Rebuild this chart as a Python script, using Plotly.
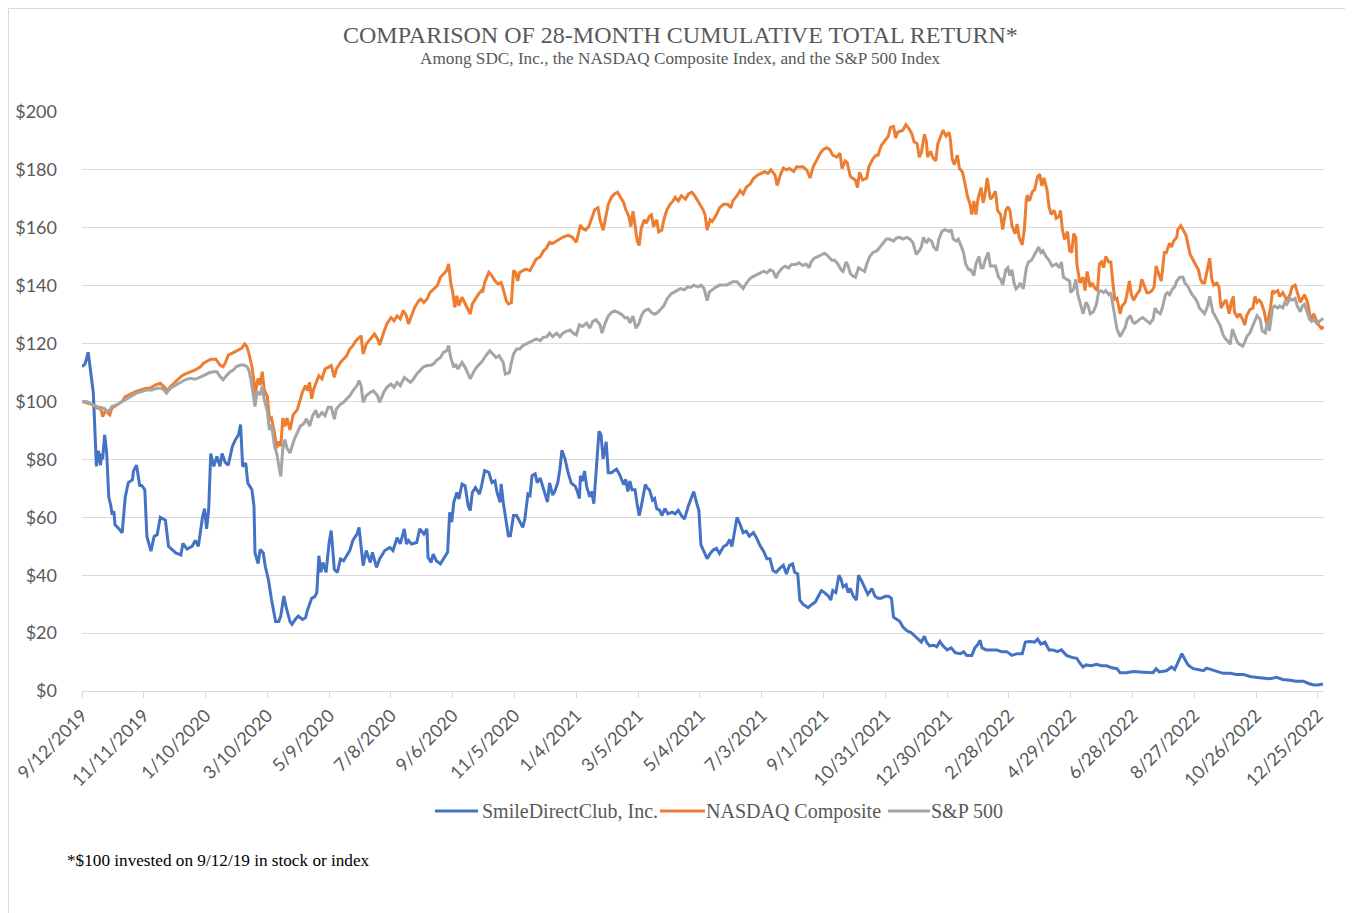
import plotly.graph_objects as go

# ---------------- data ----------------
title_text = "COMPARISON OF 28-MONTH CUMULATIVE TOTAL RETURN*"
subtitle_text = "Among SDC, Inc., the NASDAQ Composite Index, and the S&P 500 Index"
footnote_text = "*$100 invested on 9/12/19 in stock or index"

series_names = ["SmileDirectClub, Inc.", "NASDAQ Composite", "S&P 500"]
series_colors = ["#4472C4", "#ED7D31", "#A5A5A5"]

tick_dates = ["2019-09-12", "2019-11-11", "2020-01-10", "2020-03-10", "2020-05-09", "2020-07-08",
              "2020-09-06", "2020-11-05", "2021-01-04", "2021-03-05", "2021-05-04", "2021-07-03",
              "2021-09-01", "2021-10-31", "2021-12-30", "2022-02-28", "2022-04-29", "2022-06-28",
              "2022-08-27", "2022-10-26", "2022-12-25"]
tick_labels = ["9/12/2019", "11/11/2019", "1/10/2020", "3/10/2020", "5/9/2020", "7/8/2020",
               "9/6/2020", "11/5/2020", "1/4/2021", "3/5/2021", "5/4/2021", "7/3/2021",
               "9/1/2021", "10/31/2021", "12/30/2021", "2/28/2022", "4/29/2022", "6/28/2022",
               "8/27/2022", "10/26/2022", "12/25/2022"]

sdc_points = [
    ("2019-09-12", 112), ("2019-09-15", 113), ("2019-09-18", 117), ("2019-09-23", 103), ("2019-09-26", 77.6),
    ("2019-09-28", 83), ("2019-09-30", 78), ("2019-10-01", 82), ("2019-10-02", 80), ("2019-10-04", 88.5),
    ("2019-10-06", 82), ("2019-10-08", 67), ("2019-10-10", 64), ("2019-10-11", 61.5), ("2019-10-13", 62),
    ("2019-10-14", 57.5), ("2019-10-18", 56), ("2019-10-21", 54.6), ("2019-10-24", 67), ("2019-10-27", 72),
    ("2019-10-31", 73), ("2019-11-01", 76), ("2019-11-04", 78), ("2019-11-07", 71), ("2019-11-09", 71),
    ("2019-11-12", 69.5), ("2019-11-14", 53.4), ("2019-11-16", 51), ("2019-11-18", 48.3), ("2019-11-21", 53.4),
    ("2019-11-24", 54), ("2019-11-27", 60), ("2019-12-02", 59), ("2019-12-05", 50), ("2019-12-08", 48.9),
    ("2019-12-12", 47.7), ("2019-12-17", 47), ("2019-12-19", 51), ("2019-12-23", 49), ("2019-12-28", 50),
    ("2019-12-31", 52), ("2020-01-03", 50), ("2020-01-07", 60), ("2020-01-09", 63), ("2020-01-11", 56),
    ("2020-01-13", 62.6), ("2020-01-15", 82), ("2020-01-18", 77.6), ("2020-01-21", 81), ("2020-01-24", 77.6),
    ("2020-01-26", 82), ("2020-01-29", 79), ("2020-02-01", 78), ("2020-02-05", 84.5), ("2020-02-08", 86.8),
    ("2020-02-11", 88.5), ("2020-02-13", 92), ("2020-02-15", 77.6), ("2020-02-18", 78.7), ("2020-02-20", 71.8),
    ("2020-02-24", 69.5), ("2020-02-26", 63.8), ("2020-02-27", 47.7), ("2020-03-01", 44), ("2020-03-03", 48.9),
    ("2020-03-06", 47.7), ("2020-03-08", 43), ("2020-03-11", 38.5), ("2020-03-14", 31.6), ("2020-03-15", 29.3),
    ("2020-03-18", 24), ("2020-03-21", 24), ("2020-03-23", 25.9), ("2020-03-26", 32.8), ("2020-03-28", 29.3),
    ("2020-04-01", 24), ("2020-04-03", 23), ("2020-04-06", 24.7), ("2020-04-09", 25.9), ("2020-04-13", 24.7),
    ("2020-04-16", 25.3), ("2020-04-18", 28), ("2020-04-22", 32), ("2020-04-25", 32.6), ("2020-04-27", 34),
    ("2020-04-29", 46.7), ("2020-05-01", 41), ("2020-05-03", 44.4), ("2020-05-06", 41), ("2020-05-09", 51.3),
    ("2020-05-11", 55.4), ("2020-05-14", 42), ("2020-05-17", 41), ("2020-05-20", 45.6), ("2020-05-23", 45),
    ("2020-05-26", 46.7), ("2020-05-29", 48.5), ("2020-06-01", 52), ("2020-06-05", 54.2), ("2020-06-07", 56.5),
    ("2020-06-11", 43.3), ("2020-06-14", 48.5), ("2020-06-18", 44.4), ("2020-06-20", 47.9), ("2020-06-24", 42.7),
    ("2020-06-27", 45.6), ("2020-07-02", 48.5), ("2020-07-07", 49.6), ("2020-07-10", 48.5), ("2020-07-14", 53),
    ("2020-07-17", 50.8), ("2020-07-21", 56), ("2020-07-23", 50.8), ("2020-07-25", 52), ("2020-07-28", 50.8),
    ("2020-08-02", 51.3), ("2020-08-05", 56), ("2020-08-09", 54.2), ("2020-08-12", 56), ("2020-08-13", 46.2),
    ("2020-08-16", 44.4), ("2020-08-18", 47.3), ("2020-08-21", 45), ("2020-08-25", 43.9), ("2020-08-29", 46.2),
    ("2020-09-01", 47.9), ("2020-09-03", 61.7), ("2020-09-05", 58.3), ("2020-09-07", 65.2), ("2020-09-10", 68.6),
    ("2020-09-12", 66.3), ("2020-09-15", 71.5), ("2020-09-18", 70.9), ("2020-09-21", 64), ("2020-09-23", 62.3),
    ("2020-09-25", 68.6), ("2020-09-28", 70.3), ("2020-10-02", 68), ("2020-10-04", 70.9), ("2020-10-07", 76.1),
    ("2020-10-11", 75.5), ("2020-10-14", 72), ("2020-10-17", 72.6), ("2020-10-19", 68.6), ("2020-10-22", 65.2),
    ("2020-10-23", 71.5), ("2020-10-25", 65.2), ("2020-10-28", 57.7), ("2020-10-30", 53.6), ("2020-11-01", 53.6),
    ("2020-11-04", 60.6), ("2020-11-07", 60.6), ("2020-11-10", 58.8), ("2020-11-13", 56.5), ("2020-11-15", 59.4),
    ("2020-11-18", 68), ("2020-11-20", 67.5), ("2020-11-22", 74.4), ("2020-11-25", 75), ("2020-11-27", 72),
    ("2020-11-30", 73.5), ("2020-12-03", 70), ("2020-12-05", 67), ("2020-12-07", 65.3), ("2020-12-09", 71.9),
    ("2020-12-12", 67.7), ("2020-12-14", 68.9), ("2020-12-17", 72), ("2020-12-19", 76.6), ("2020-12-21", 83.2),
    ("2020-12-24", 80.2), ("2020-12-27", 75.4), ("2020-12-30", 71.9), ("2021-01-03", 70.7), ("2021-01-05", 68.9),
    ("2021-01-07", 66.5), ("2021-01-08", 74.3), ("2021-01-10", 72.5), ("2021-01-12", 76), ("2021-01-14", 70.7),
    ("2021-01-17", 67.1), ("2021-01-19", 68.9), ("2021-01-21", 64.7), ("2021-01-24", 79), ("2021-01-26", 89.7),
    ("2021-01-28", 88.5), ("2021-01-30", 80.2), ("2021-02-01", 83.8), ("2021-02-02", 86.1), ("2021-02-04", 75.4),
    ("2021-02-07", 75.4), ("2021-02-12", 76.6), ("2021-02-15", 74.8), ("2021-02-19", 71.3), ("2021-02-21", 73.1),
    ("2021-02-23", 68.9), ("2021-02-25", 72.5), ("2021-02-27", 69.5), ("2021-03-02", 69.5), ("2021-03-04", 64.7),
    ("2021-03-06", 60.6), ("2021-03-08", 63.6), ("2021-03-12", 71.3), ("2021-03-14", 70.1), ("2021-03-16", 69.5),
    ("2021-03-19", 65.9), ("2021-03-21", 66.5), ("2021-03-23", 63), ("2021-03-26", 62.4), ("2021-03-28", 60.6),
    ("2021-03-31", 63), ("2021-04-03", 61.2), ("2021-04-07", 61.8), ("2021-04-10", 61.2), ("2021-04-13", 62.4),
    ("2021-04-16", 60.6), ("2021-04-19", 59.4), ("2021-04-23", 64.2), ("2021-04-26", 67.1), ("2021-04-28", 68.9),
    ("2021-05-01", 64.7), ("2021-05-03", 62.4), ("2021-05-05", 50.5), ("2021-05-07", 48.7), ("2021-05-11", 45.7),
    ("2021-05-14", 47.5), ("2021-05-17", 48.7), ("2021-05-20", 49.3), ("2021-05-23", 47.5), ("2021-05-27", 49.9),
    ("2021-05-30", 50.5), ("2021-06-02", 52.3), ("2021-06-04", 49.9), ("2021-06-05", 51.7), ("2021-06-09", 60),
    ("2021-06-12", 57.6), ("2021-06-15", 54.7), ("2021-06-18", 55.2), ("2021-06-21", 53.5), ("2021-06-25", 54.7),
    ("2021-06-28", 52.9), ("2021-07-01", 50.5), ("2021-07-05", 48.1), ("2021-07-08", 45.7), ("2021-07-11", 45.7),
    ("2021-07-14", 41.6), ("2021-07-17", 41), ("2021-07-21", 42.5), ("2021-07-24", 43.4), ("2021-07-27", 40.4),
    ("2021-07-30", 43.4), ("2021-08-02", 43.9), ("2021-08-04", 41), ("2021-08-07", 40.4), ("2021-08-09", 31.4),
    ("2021-08-12", 30), ("2021-08-17", 28.8), ("2021-08-21", 30), ("2021-08-24", 30.7), ("2021-08-27", 32.7),
    ("2021-08-30", 34.7), ("2021-09-02", 34), ("2021-09-06", 32.7), ("2021-09-08", 31.4), ("2021-09-10", 34.7),
    ("2021-09-13", 34), ("2021-09-16", 40), ("2021-09-18", 38.7), ("2021-09-20", 36), ("2021-09-23", 36.7),
    ("2021-09-25", 34), ("2021-09-27", 35.4), ("2021-09-30", 32.7), ("2021-10-03", 31.4), ("2021-10-05", 40),
    ("2021-10-08", 38), ("2021-10-11", 35.4), ("2021-10-14", 33.4), ("2021-10-18", 35.4), ("2021-10-21", 32.7),
    ("2021-10-24", 32), ("2021-10-27", 32), ("2021-10-31", 32.7), ("2021-11-03", 32.7), ("2021-11-06", 32),
    ("2021-11-08", 25.5), ("2021-11-11", 24.8), ("2021-11-14", 24.1), ("2021-11-17", 22.2), ("2021-11-21", 20.8),
    ("2021-11-25", 20.2), ("2021-11-29", 18.9), ("2021-12-02", 18.2), ("2021-12-05", 16.9), ("2021-12-08", 18.9),
    ("2021-12-10", 16.9), ("2021-12-13", 15.6), ("2021-12-17", 15.8), ("2021-12-20", 15.3), ("2021-12-23", 17.1),
    ("2021-12-26", 15.6), ("2021-12-30", 14.2), ("2022-01-03", 14.9), ("2022-01-07", 13.2), ("2022-01-12", 12.9),
    ("2022-01-15", 13.6), ("2022-01-18", 12.3), ("2022-01-23", 12.3), ("2022-01-26", 14.9), ("2022-01-29", 16.2),
    ("2022-01-31", 17.5), ("2022-02-02", 14.9), ("2022-02-06", 14.2), ("2022-02-11", 14.2), ("2022-02-16", 14.2),
    ("2022-02-21", 13.6), ("2022-02-26", 13.6), ("2022-03-03", 12.3), ("2022-03-08", 12.9), ("2022-03-13", 12.9),
    ("2022-03-16", 16.9), ("2022-03-20", 17.1), ("2022-03-25", 16.9), ("2022-03-28", 17.9), ("2022-03-31", 16.2),
    ("2022-04-04", 16.9), ("2022-04-08", 14.2), ("2022-04-12", 14.2), ("2022-04-16", 13.6), ("2022-04-20", 14.2),
    ("2022-04-25", 12.3), ("2022-04-30", 11.6), ("2022-05-05", 11.3), ("2022-05-08", 9.6), ("2022-05-11", 8.3),
    ("2022-05-14", 9), ("2022-05-19", 8.7), ("2022-05-24", 9.2), ("2022-05-29", 8.7), ("2022-06-03", 8.7),
    ("2022-06-08", 8), ("2022-06-13", 7.7), ("2022-06-16", 6.3), ("2022-06-22", 6.3), ("2022-06-29", 6.7),
    ("2022-07-05", 6.6), ("2022-07-12", 6.3), ("2022-07-18", 6.3), ("2022-07-21", 7.7), ("2022-07-24", 6.6),
    ("2022-07-31", 7), ("2022-08-05", 8.3), ("2022-08-08", 7.4), ("2022-08-12", 10.3), ("2022-08-15", 12.9),
    ("2022-08-18", 10.9), ("2022-08-21", 9), ("2022-08-26", 7.7), ("2022-08-31", 7.4), ("2022-09-05", 7),
    ("2022-09-08", 7.9), ("2022-09-13", 7.4), ("2022-09-18", 6.7), ("2022-09-24", 6.1), ("2022-10-01", 6.1),
    ("2022-10-07", 5.7), ("2022-10-14", 5.7), ("2022-10-20", 5), ("2022-10-27", 4.7), ("2022-11-02", 4.4),
    ("2022-11-08", 4.2), ("2022-11-15", 4.7), ("2022-11-21", 4), ("2022-11-28", 3.7), ("2022-12-04", 3.4),
    ("2022-12-11", 3.4), ("2022-12-16", 2.6), ("2022-12-21", 2.1), ("2022-12-25", 2.1), ("2022-12-30", 2.4),
]

nasdaq_points = [
    ("2019-09-12", 100), ("2019-09-17", 99.4), ("2019-09-22", 98.9), ("2019-09-27", 97.7), ("2019-09-30", 98),
    ("2019-10-02", 94.8), ("2019-10-05", 97), ("2019-10-07", 96), ("2019-10-09", 95.4), ("2019-10-11", 97.7),
    ("2019-10-16", 98.9), ("2019-10-21", 100), ("2019-10-24", 101.7), ("2019-10-29", 102.6), ("2019-11-03", 103.4),
    ("2019-11-08", 104), ("2019-11-13", 104.6), ("2019-11-17", 104.6), ("2019-11-22", 105.7), ("2019-11-27", 106.3),
    ("2019-12-02", 104.6), ("2019-12-03", 103.4), ("2019-12-07", 105.2), ("2019-12-12", 106.9), ("2019-12-17", 108.6),
    ("2019-12-21", 109.5), ("2019-12-26", 110.3), ("2019-12-31", 110.9), ("2020-01-05", 112), ("2020-01-08", 113.2),
    ("2020-01-11", 113.8), ("2020-01-15", 114.6), ("2020-01-18", 114.6), ("2020-01-20", 114.6), ("2020-01-24", 112.6),
    ("2020-01-27", 112), ("2020-01-29", 113.2), ("2020-02-01", 116), ("2020-02-05", 116.7), ("2020-02-08", 117.2),
    ("2020-02-11", 117.8), ("2020-02-14", 118.4), ("2020-02-17", 119.9), ("2020-02-19", 119), ("2020-02-21", 116.7),
    ("2020-02-24", 112), ("2020-02-26", 106.9), ("2020-02-27", 102.3), ("2020-03-01", 108), ("2020-03-03", 105.7),
    ("2020-03-05", 110.3), ("2020-03-07", 104), ("2020-03-10", 101.7), ("2020-03-12", 93.7), ("2020-03-14", 94.3),
    ("2020-03-17", 89), ("2020-03-19", 83.9), ("2020-03-21", 86.2), ("2020-03-23", 84.5), ("2020-03-25", 94.3),
    ("2020-03-27", 91.4), ("2020-03-29", 94.3), ("2020-04-01", 90.2), ("2020-04-04", 95.4), ("2020-04-08", 97.1),
    ("2020-04-11", 100.6), ("2020-04-13", 103.2), ("2020-04-16", 105.5), ("2020-04-18", 103.7), ("2020-04-20", 106.6),
    ("2020-04-22", 100.9), ("2020-04-24", 104.3), ("2020-04-29", 108.9), ("2020-05-02", 107.8), ("2020-05-05", 111.2),
    ("2020-05-08", 111.8), ("2020-05-11", 112.4), ("2020-05-14", 108.3), ("2020-05-16", 111.2), ("2020-05-20", 113.5),
    ("2020-05-23", 114.7), ("2020-05-26", 115.8), ("2020-05-29", 118.1), ("2020-06-01", 119.3), ("2020-06-04", 121),
    ("2020-06-07", 122.2), ("2020-06-09", 122.7), ("2020-06-11", 116.4), ("2020-06-14", 119.8), ("2020-06-18", 121.6),
    ("2020-06-22", 123.3), ("2020-06-25", 121.6), ("2020-06-27", 119.5), ("2020-07-01", 123.9), ("2020-07-04", 126.8),
    ("2020-07-08", 129), ("2020-07-11", 127.9), ("2020-07-14", 129.6), ("2020-07-17", 128.5), ("2020-07-20", 131.4),
    ("2020-07-23", 129.6), ("2020-07-25", 126.8), ("2020-07-28", 129.6), ("2020-07-31", 132.5), ("2020-08-04", 134.8),
    ("2020-08-06", 135.4), ("2020-08-09", 134.2), ("2020-08-12", 135.4), ("2020-08-15", 137.7), ("2020-08-18", 138.8),
    ("2020-08-22", 140), ("2020-08-25", 142.9), ("2020-08-28", 144), ("2020-08-31", 145.2), ("2020-09-02", 147.5),
    ("2020-09-04", 141.1), ("2020-09-06", 137.7), ("2020-09-08", 132.5), ("2020-09-10", 136.5), ("2020-09-12", 133.1),
    ("2020-09-15", 136), ("2020-09-18", 133.7), ("2020-09-20", 131.9), ("2020-09-23", 130.2), ("2020-09-25", 133.7),
    ("2020-09-28", 135.4), ("2020-10-01", 137.1), ("2020-10-04", 138.3), ("2020-10-05", 137.7), ("2020-10-07", 141.1),
    ("2020-10-11", 144.6), ("2020-10-14", 143.4), ("2020-10-17", 141.7), ("2020-10-20", 140.6), ("2020-10-23", 141.1),
    ("2020-10-25", 138.8), ("2020-10-28", 134.8), ("2020-10-30", 133.7), ("2020-11-02", 134.2), ("2020-11-04", 145.2),
    ("2020-11-06", 144.6), ("2020-11-08", 141.7), ("2020-11-10", 144.6), ("2020-11-13", 145.2), ("2020-11-16", 145.7),
    ("2020-11-20", 145.2), ("2020-11-23", 147.5), ("2020-11-26", 149.2), ("2020-11-30", 150), ("2020-12-03", 152),
    ("2020-12-06", 153), ("2020-12-09", 155), ("2020-12-12", 154.6), ("2020-12-16", 155.6), ("2020-12-19", 156.2),
    ("2020-12-22", 156.8), ("2020-12-27", 157.4), ("2020-12-31", 156.8), ("2021-01-04", 155), ("2021-01-06", 158),
    ("2021-01-08", 161), ("2021-01-10", 159.8), ("2021-01-13", 159.2), ("2021-01-16", 160.4), ("2021-01-20", 164.5),
    ("2021-01-22", 166.3), ("2021-01-25", 166.9), ("2021-01-27", 162.8), ("2021-01-30", 159.2), ("2021-02-01", 162.8),
    ("2021-02-04", 168.1), ("2021-02-07", 170.5), ("2021-02-10", 171.7), ("2021-02-13", 172.3), ("2021-02-15", 171.1),
    ("2021-02-19", 168.7), ("2021-02-21", 166.3), ("2021-02-24", 164), ("2021-02-26", 160.4), ("2021-02-28", 165.7),
    ("2021-03-02", 161), ("2021-03-04", 155.6), ("2021-03-06", 153.9), ("2021-03-08", 159.8), ("2021-03-11", 162.8),
    ("2021-03-13", 161.6), ("2021-03-16", 164), ("2021-03-18", 164.5), ("2021-03-20", 160.4), ("2021-03-23", 162.8),
    ("2021-03-25", 158.6), ("2021-03-28", 159.2), ("2021-03-30", 162.8), ("2021-04-02", 166.3), ("2021-04-05", 168.1),
    ("2021-04-08", 169.3), ("2021-04-10", 170.5), ("2021-04-13", 169.3), ("2021-04-16", 171.1), ("2021-04-20", 169.9),
    ("2021-04-23", 171.7), ("2021-04-26", 172.3), ("2021-04-29", 171.1), ("2021-05-02", 169.3), ("2021-05-05", 167.5),
    ("2021-05-07", 166.3), ("2021-05-09", 164.5), ("2021-05-11", 159.2), ("2021-05-14", 162.8), ("2021-05-16", 162.2),
    ("2021-05-20", 164.5), ("2021-05-23", 166.9), ("2021-05-27", 168.1), ("2021-05-31", 168.1), ("2021-06-03", 166.9),
    ("2021-06-05", 169.3), ("2021-06-09", 171.1), ("2021-06-12", 172.9), ("2021-06-15", 171.7), ("2021-06-18", 174),
    ("2021-06-22", 175.2), ("2021-06-25", 177), ("2021-06-29", 178.2), ("2021-07-03", 178.8), ("2021-07-06", 179.4),
    ("2021-07-09", 178.8), ("2021-07-12", 180), ("2021-07-16", 178.2), ("2021-07-18", 174.6), ("2021-07-21", 178.2),
    ("2021-07-24", 180.6), ("2021-07-27", 180), ("2021-07-30", 180.5), ("2021-08-03", 179.5), ("2021-08-06", 181.1),
    ("2021-08-09", 181), ("2021-08-12", 181.1), ("2021-08-16", 179.8), ("2021-08-19", 177.2), ("2021-08-22", 181.1),
    ("2021-08-25", 183.1), ("2021-08-29", 185.8), ("2021-09-01", 187.1), ("2021-09-04", 187.7), ("2021-09-07", 187.1),
    ("2021-09-10", 185.1), ("2021-09-14", 184.4), ("2021-09-17", 185.8), ("2021-09-19", 180.5), ("2021-09-22", 183.1),
    ("2021-09-24", 182.5), ("2021-09-27", 177.8), ("2021-09-29", 177.2), ("2021-10-02", 176.5), ("2021-10-04", 173.9),
    ("2021-10-06", 179.2), ("2021-10-09", 176.5), ("2021-10-13", 177.2), ("2021-10-15", 181.1), ("2021-10-19", 183.8),
    ("2021-10-22", 185.1), ("2021-10-24", 185.1), ("2021-10-27", 188.4), ("2021-10-31", 190.4), ("2021-11-03", 191.7),
    ("2021-11-05", 194.7), ("2021-11-08", 195), ("2021-11-10", 191), ("2021-11-12", 193), ("2021-11-17", 193.7),
    ("2021-11-20", 195.6), ("2021-11-23", 194.3), ("2021-11-26", 192.3), ("2021-11-28", 189.7), ("2021-12-01", 189),
    ("2021-12-03", 184.4), ("2021-12-05", 185.8), ("2021-12-08", 192.3), ("2021-12-10", 189.7), ("2021-12-11", 184.4),
    ("2021-12-14", 186.4), ("2021-12-16", 184.4), ("2021-12-19", 183.1), ("2021-12-21", 189), ("2021-12-24", 192.3),
    ("2021-12-26", 193.7), ("2021-12-29", 191.7), ("2022-01-01", 193), ("2022-01-02", 191), ("2022-01-04", 183.8),
    ("2022-01-06", 181.8), ("2022-01-09", 185.1), ("2022-01-11", 180.5), ("2022-01-14", 179.2), ("2022-01-16", 175.9),
    ("2022-01-19", 170.6), ("2022-01-21", 168.6), ("2022-01-23", 164.6), ("2022-01-25", 169.3), ("2022-01-27", 164.6),
    ("2022-01-29", 169.9), ("2022-02-01", 173.9), ("2022-02-03", 168.6), ("2022-02-05", 171.9), ("2022-02-07", 177.2),
    ("2022-02-10", 169.9), ("2022-02-12", 170.6), ("2022-02-15", 172.6), ("2022-02-17", 166), ("2022-02-20", 164.6),
    ("2022-02-22", 159.4), ("2022-02-25", 166), ("2022-02-27", 167.3), ("2022-03-01", 166), ("2022-03-03", 160.7),
    ("2022-03-06", 158), ("2022-03-08", 161.3), ("2022-03-10", 156.7), ("2022-03-13", 154.1), ("2022-03-15", 159.4),
    ("2022-03-17", 169.9), ("2022-03-18", 171.2), ("2022-03-20", 169.3), ("2022-03-23", 172.6), ("2022-03-25", 173.2),
    ("2022-03-28", 177.8), ("2022-03-30", 178.5), ("2022-04-01", 174.5), ("2022-04-03", 177.2), ("2022-04-06", 173.2),
    ("2022-04-08", 167.3), ("2022-04-10", 164.6), ("2022-04-13", 166), ("2022-04-15", 163.3), ("2022-04-18", 164),
    ("2022-04-19", 166), ("2022-04-21", 159.4), ("2022-04-23", 156), ("2022-04-26", 158.7), ("2022-04-28", 152.1),
    ("2022-04-30", 151.5), ("2022-05-02", 158), ("2022-05-04", 156.7), ("2022-05-05", 147.5), ("2022-05-08", 140.9),
    ("2022-05-11", 142.9), ("2022-05-13", 138.3), ("2022-05-15", 144.9), ("2022-05-18", 139.6), ("2022-05-20", 140.9),
    ("2022-05-23", 138.9), ("2022-05-25", 138.3), ("2022-05-27", 147.5), ("2022-05-29", 148.2), ("2022-05-31", 146.2),
    ("2022-06-02", 150.1), ("2022-06-05", 148.2), ("2022-06-07", 148.2), ("2022-06-09", 140.9), ("2022-06-11", 135),
    ("2022-06-13", 135.6), ("2022-06-16", 130.3), ("2022-06-18", 133), ("2022-06-21", 134.3), ("2022-06-23", 137.6),
    ("2022-06-25", 141.6), ("2022-06-27", 136.9), ("2022-06-29", 135), ("2022-07-02", 136.9), ("2022-07-05", 138.3),
    ("2022-07-07", 142.2), ("2022-07-09", 140.2), ("2022-07-12", 137.6), ("2022-07-14", 137.6), ("2022-07-17", 138.3),
    ("2022-07-19", 139.6), ("2022-07-21", 146.8), ("2022-07-24", 143.5), ("2022-07-26", 141.6), ("2022-07-29", 151.5),
    ("2022-07-31", 151.5), ("2022-08-03", 154.7), ("2022-08-05", 153.4), ("2022-08-07", 155.4), ("2022-08-10", 156.7),
    ("2022-08-11", 159.4), ("2022-08-14", 160.7), ("2022-08-16", 159.4), ("2022-08-19", 157.4), ("2022-08-21", 154.1),
    ("2022-08-23", 150.8), ("2022-08-26", 148.8), ("2022-08-29", 146.8), ("2022-08-31", 145.5), ("2022-09-02", 142.2),
    ("2022-09-04", 140.9), ("2022-09-06", 140.9), ("2022-09-09", 146.2), ("2022-09-11", 149.5), ("2022-09-13", 142.2),
    ("2022-09-15", 140.2), ("2022-09-18", 140.9), ("2022-09-20", 139.6), ("2022-09-22", 132.3), ("2022-09-25", 134.3),
    ("2022-09-27", 135), ("2022-09-30", 130.3), ("2022-10-02", 134.3), ("2022-10-04", 136.3), ("2022-10-05", 131),
    ("2022-10-08", 129), ("2022-10-10", 130.3), ("2022-10-13", 128.4), ("2022-10-15", 126.4), ("2022-10-17", 129.7),
    ("2022-10-20", 131.7), ("2022-10-23", 132.3), ("2022-10-25", 136.3), ("2022-10-27", 134.3), ("2022-10-29", 135),
    ("2022-10-31", 134.3), ("2022-11-03", 131), ("2022-11-05", 127), ("2022-11-07", 128.4), ("2022-11-09", 132.3),
    ("2022-11-11", 138.3), ("2022-11-13", 137.6), ("2022-11-16", 138.3), ("2022-11-18", 136.3), ("2022-11-21", 137.6),
    ("2022-11-23", 136.3), ("2022-11-25", 135), ("2022-11-28", 136.9), ("2022-11-30", 139.6), ("2022-12-03", 140.2),
    ("2022-12-05", 137.6), ("2022-12-08", 134.3), ("2022-12-10", 135.6), ("2022-12-12", 136.9), ("2022-12-15", 134.3),
    ("2022-12-17", 130.3), ("2022-12-19", 128.4), ("2022-12-21", 130.3), ("2022-12-24", 127.7), ("2022-12-26", 126.4),
    ("2022-12-29", 125), ("2022-12-30", 126),
]

sp500_points = [
    ("2019-09-12", 100), ("2019-09-17", 99.9), ("2019-09-22", 98.9), ("2019-09-27", 98.3), ("2019-09-30", 97.1),
    ("2019-10-03", 97.7), ("2019-10-06", 96.6), ("2019-10-09", 97.1), ("2019-10-11", 98.3), ("2019-10-16", 98.9),
    ("2019-10-21", 100), ("2019-10-26", 101.1), ("2019-10-31", 102.3), ("2019-11-04", 102.9), ("2019-11-09", 103.4),
    ("2019-11-14", 104), ("2019-11-19", 104), ("2019-11-24", 104.6), ("2019-11-29", 104.6), ("2019-12-03", 102.9),
    ("2019-12-07", 104.6), ("2019-12-12", 105.7), ("2019-12-17", 106.9), ("2019-12-21", 107.5), ("2019-12-26", 108),
    ("2019-12-31", 107.7), ("2020-01-05", 108.4), ("2020-01-10", 109.2), ("2020-01-14", 110), ("2020-01-18", 110.3),
    ("2020-01-21", 110.3), ("2020-01-24", 108.6), ("2020-01-27", 107.5), ("2020-01-31", 109.2), ("2020-02-03", 110.3),
    ("2020-02-06", 110.9), ("2020-02-09", 112.1), ("2020-02-13", 112.6), ("2020-02-16", 112.6), ("2020-02-19", 112.1),
    ("2020-02-21", 110.9), ("2020-02-23", 107.5), ("2020-02-25", 103.4), ("2020-02-27", 98.3), ("2020-02-29", 103.4),
    ("2020-03-03", 102.3), ("2020-03-05", 105.2), ("2020-03-07", 100.6), ("2020-03-10", 96.6), ("2020-03-12", 90.2),
    ("2020-03-14", 92), ("2020-03-17", 84.5), ("2020-03-19", 82.2), ("2020-03-21", 78.2), ("2020-03-23", 74.1),
    ("2020-03-25", 83.9), ("2020-03-27", 86.8), ("2020-03-29", 83.9), ("2020-04-01", 82.2), ("2020-04-05", 86.8),
    ("2020-04-08", 89), ("2020-04-11", 91.5), ("2020-04-14", 92.2), ("2020-04-17", 94), ("2020-04-20", 91.5),
    ("2020-04-23", 95.1), ("2020-04-26", 97), ("2020-04-28", 94.5), ("2020-05-02", 96.2), ("2020-05-05", 95.1),
    ("2020-05-08", 98), ("2020-05-11", 98), ("2020-05-14", 93.9), ("2020-05-16", 97.4), ("2020-05-20", 99.1),
    ("2020-05-23", 99.7), ("2020-05-26", 100.9), ("2020-05-29", 102), ("2020-06-01", 103.7), ("2020-06-05", 105.5),
    ("2020-06-07", 107.2), ("2020-06-09", 105.5), ("2020-06-11", 99.7), ("2020-06-14", 102), ("2020-06-18", 103.2),
    ("2020-06-21", 103.7), ("2020-06-25", 102), ("2020-06-27", 99.7), ("2020-07-01", 103.2), ("2020-07-04", 104.9),
    ("2020-07-08", 106), ("2020-07-11", 104.9), ("2020-07-14", 106.6), ("2020-07-17", 105.5), ("2020-07-21", 108.3),
    ("2020-07-23", 107.8), ("2020-07-27", 106.6), ("2020-07-30", 107.8), ("2020-08-02", 109.5), ("2020-08-05", 110.6),
    ("2020-08-08", 111.8), ("2020-08-12", 112.4), ("2020-08-15", 112.4), ("2020-08-18", 112.9), ("2020-08-21", 114.1),
    ("2020-08-25", 115.2), ("2020-08-28", 117), ("2020-08-31", 117.5), ("2020-09-02", 119.3), ("2020-09-04", 115.2),
    ("2020-09-07", 111.8), ("2020-09-09", 112.9), ("2020-09-11", 111.2), ("2020-09-15", 113.5), ("2020-09-18", 111.8),
    ("2020-09-21", 109.5), ("2020-09-23", 107.8), ("2020-09-26", 110), ("2020-09-29", 111.8), ("2020-10-02", 112.9),
    ("2020-10-05", 114.1), ("2020-10-08", 115.8), ("2020-10-12", 117.5), ("2020-10-15", 116.4), ("2020-10-18", 115.2),
    ("2020-10-21", 115.8), ("2020-10-25", 113.5), ("2020-10-27", 109.5), ("2020-10-31", 110), ("2020-11-02", 113.5),
    ("2020-11-04", 116.4), ("2020-11-07", 118.1), ("2020-11-10", 118.1), ("2020-11-13", 119.3), ("2020-11-16", 119.8),
    ("2020-11-20", 120.4), ("2020-11-23", 121), ("2020-11-26", 121.6), ("2020-11-30", 121), ("2020-12-03", 122.2),
    ("2020-12-06", 122.3), ("2020-12-09", 123.6), ("2020-12-12", 122.4), ("2020-12-16", 123.6), ("2020-12-19", 122.4),
    ("2020-12-22", 123.6), ("2020-12-25", 124.2), ("2020-12-29", 124.7), ("2021-01-01", 123.6), ("2021-01-04", 123),
    ("2021-01-07", 126.5), ("2021-01-10", 125.9), ("2021-01-14", 127.1), ("2021-01-17", 125.3), ("2021-01-20", 127.7),
    ("2021-01-23", 128.3), ("2021-01-27", 126.5), ("2021-01-29", 123.6), ("2021-02-01", 127.1), ("2021-02-04", 129.5),
    ("2021-02-07", 130.7), ("2021-02-10", 131.3), ("2021-02-14", 130.7), ("2021-02-17", 130.1), ("2021-02-20", 128.9),
    ("2021-02-23", 128.9), ("2021-02-25", 127.1), ("2021-02-28", 129.5), ("2021-03-03", 125.3), ("2021-03-06", 127.1),
    ("2021-03-08", 129.5), ("2021-03-11", 131.3), ("2021-03-15", 131.9), ("2021-03-18", 130.7), ("2021-03-21", 130.1),
    ("2021-03-24", 130.7), ("2021-03-27", 131.9), ("2021-03-30", 133.1), ("2021-04-02", 135.4), ("2021-04-06", 137.2),
    ("2021-04-09", 137.8), ("2021-04-12", 138.4), ("2021-04-15", 139), ("2021-04-19", 138.6), ("2021-04-22", 139.6),
    ("2021-04-25", 139.4), ("2021-04-28", 140.2), ("2021-05-02", 139.6), ("2021-05-05", 140.2), ("2021-05-08", 139),
    ("2021-05-10", 136.6), ("2021-05-11", 134.8), ("2021-05-13", 137.8), ("2021-05-17", 139), ("2021-05-20", 139.6),
    ("2021-05-23", 140.2), ("2021-05-27", 140.2), ("2021-05-30", 140.2), ("2021-06-02", 140.8), ("2021-06-05", 141.4),
    ("2021-06-09", 141.4), ("2021-06-12", 140.2), ("2021-06-15", 139), ("2021-06-18", 140.8), ("2021-06-22", 142.6),
    ("2021-06-25", 143.2), ("2021-06-28", 143.8), ("2021-07-01", 144.4), ("2021-07-05", 145), ("2021-07-08", 144.4),
    ("2021-07-11", 145.5), ("2021-07-14", 145), ("2021-07-17", 142.6), ("2021-07-19", 144.4), ("2021-07-23", 146.1),
    ("2021-07-26", 146.7), ("2021-07-29", 146.1), ("2021-08-01", 147.3), ("2021-08-05", 147.3), ("2021-08-08", 147.9),
    ("2021-08-12", 147), ("2021-08-15", 147.5), ("2021-08-18", 146.2), ("2021-08-20", 148.2), ("2021-08-23", 149.5),
    ("2021-08-27", 150.1), ("2021-08-30", 150.8), ("2021-09-02", 151.2), ("2021-09-05", 150.4), ("2021-09-09", 148.8),
    ("2021-09-12", 148.8), ("2021-09-15", 147.5), ("2021-09-18", 145.5), ("2021-09-20", 144.9), ("2021-09-23", 148.2),
    ("2021-09-25", 146.8), ("2021-09-27", 144.2), ("2021-09-29", 143.5), ("2021-10-02", 142.9), ("2021-10-05", 146.2),
    ("2021-10-08", 145.5), ("2021-10-11", 144.9), ("2021-10-13", 147.5), ("2021-10-16", 150.1), ("2021-10-19", 151.5),
    ("2021-10-23", 152.1), ("2021-10-26", 153.4), ("2021-10-29", 154.7), ("2021-11-01", 156.1), ("2021-11-04", 156.1),
    ("2021-11-08", 155.4), ("2021-11-11", 156.5), ("2021-11-14", 156.7), ("2021-11-17", 156.1), ("2021-11-21", 156.7),
    ("2021-11-24", 156.1), ("2021-11-27", 154.7), ("2021-11-30", 150.8), ("2021-12-03", 152.1), ("2021-12-05", 153.4),
    ("2021-12-07", 156.7), ("2021-12-10", 154.7), ("2021-12-12", 156.1), ("2021-12-15", 155.4), ("2021-12-17", 153.4),
    ("2021-12-20", 152.1), ("2021-12-22", 156.1), ("2021-12-25", 158.7), ("2021-12-28", 159.4), ("2022-01-01", 158.7),
    ("2022-01-03", 159.4), ("2022-01-05", 156.1), ("2022-01-08", 155.4), ("2022-01-10", 156.1), ("2022-01-13", 153.4),
    ("2022-01-15", 151.5), ("2022-01-17", 147.5), ("2022-01-20", 145.5), ("2022-01-22", 145.5), ("2022-01-25", 143.5),
    ("2022-01-27", 147.5), ("2022-01-30", 150.1), ("2022-02-01", 146.2), ("2022-02-03", 146.2), ("2022-02-05", 148.8),
    ("2022-02-08", 151.5), ("2022-02-10", 146.8), ("2022-02-13", 146.8), ("2022-02-15", 146.8), ("2022-02-18", 142.9),
    ("2022-02-20", 142.2), ("2022-02-22", 140.2), ("2022-02-25", 145.5), ("2022-02-27", 146.2), ("2022-03-01", 143.5),
    ("2022-03-03", 145.5), ("2022-03-05", 140.9), ("2022-03-07", 138.9), ("2022-03-09", 139.6), ("2022-03-11", 140.9),
    ("2022-03-14", 138.9), ("2022-03-17", 146.2), ("2022-03-19", 148.2), ("2022-03-22", 148.8), ("2022-03-25", 150.8),
    ("2022-03-29", 153.4), ("2022-03-31", 151.5), ("2022-04-02", 152.1), ("2022-04-05", 150.1), ("2022-04-08", 148.8),
    ("2022-04-11", 146.8), ("2022-04-15", 147.5), ("2022-04-18", 146.2), ("2022-04-20", 148.2), ("2022-04-22", 142.9),
    ("2022-04-25", 142.2), ("2022-04-28", 141.6), ("2022-04-29", 137.6), ("2022-05-02", 138.9), ("2022-05-04", 142.2),
    ("2022-05-06", 136.9), ("2022-05-09", 133), ("2022-05-11", 130.3), ("2022-05-14", 134.3), ("2022-05-16", 133),
    ("2022-05-18", 130.3), ("2022-05-21", 131), ("2022-05-24", 133.6), ("2022-05-26", 137.6), ("2022-05-28", 138.3),
    ("2022-05-31", 137.6), ("2022-06-02", 138.3), ("2022-06-05", 136.9), ("2022-06-07", 137.6), ("2022-06-09", 133),
    ("2022-06-11", 128.4), ("2022-06-13", 125), ("2022-06-16", 122.4), ("2022-06-18", 123.7), ("2022-06-21", 125.7),
    ("2022-06-23", 128.4), ("2022-06-26", 129.7), ("2022-06-28", 127.7), ("2022-06-30", 127), ("2022-07-03", 127.7),
    ("2022-07-05", 128.4), ("2022-07-08", 129), ("2022-07-10", 128.4), ("2022-07-12", 127.7), ("2022-07-15", 127),
    ("2022-07-18", 128.4), ("2022-07-20", 132.3), ("2022-07-22", 131), ("2022-07-25", 130.3), ("2022-07-27", 132.3),
    ("2022-07-30", 136.9), ("2022-08-01", 137.6), ("2022-08-03", 136.9), ("2022-08-06", 138.9), ("2022-08-08", 139.6),
    ("2022-08-10", 141.6), ("2022-08-13", 142.9), ("2022-08-16", 142.9), ("2022-08-18", 140.9), ("2022-08-20", 140.2),
    ("2022-08-23", 138.3), ("2022-08-25", 136.9), ("2022-08-28", 135.6), ("2022-08-30", 134.3), ("2022-09-01", 132.3),
    ("2022-09-04", 131), ("2022-09-06", 130.3), ("2022-09-09", 133), ("2022-09-11", 136.3), ("2022-09-14", 131),
    ("2022-09-16", 129.7), ("2022-09-18", 128.4), ("2022-09-21", 126.4), ("2022-09-24", 123.1), ("2022-09-26", 121.8),
    ("2022-09-28", 121.1), ("2022-10-01", 119.8), ("2022-10-03", 125), ("2022-10-05", 123.1), ("2022-10-08", 120.4),
    ("2022-10-10", 119.8), ("2022-10-13", 119.1), ("2022-10-15", 120.4), ("2022-10-17", 122.4), ("2022-10-20", 123.7),
    ("2022-10-23", 126.4), ("2022-10-25", 127.7), ("2022-10-27", 129.7), ("2022-10-30", 128.4), ("2022-11-01", 124.4),
    ("2022-11-04", 123.7), ("2022-11-06", 127.7), ("2022-11-08", 124.4), ("2022-11-11", 132.3), ("2022-11-13", 133),
    ("2022-11-16", 132.3), ("2022-11-18", 133), ("2022-11-21", 132.3), ("2022-11-23", 134.3), ("2022-11-25", 133.6),
    ("2022-11-28", 135.6), ("2022-11-30", 135), ("2022-12-03", 135.6), ("2022-12-05", 133), ("2022-12-08", 131),
    ("2022-12-10", 133), ("2022-12-12", 133.6), ("2022-12-15", 130.3), ("2022-12-17", 128.4), ("2022-12-19", 127.7),
    ("2022-12-21", 128.4), ("2022-12-24", 127), ("2022-12-26", 127.7), ("2022-12-29", 128.4), ("2022-12-30", 128),
]

sdc_dates = [d for d, _ in sdc_points]
sdc_values = [v for _, v in sdc_points]
nasdaq_dates = [d for d, _ in nasdaq_points]
nasdaq_values = [v for _, v in nasdaq_points]
sp500_dates = [d for d, _ in sp500_points]
sp500_values = [v for _, v in sp500_points]

# ---------------- figure ----------------
# The page body has an 8 px margin, so the figure is drawn 8 px in from the window edge.
OFF = 8
W, H = 1353 - OFF, 913 - OFF
PLOT_LEFT, PLOT_RIGHT, PLOT_TOP, PLOT_BOTTOM = 82, 1324, 112, 691   # window pixels
L = PLOT_LEFT - OFF
T = PLOT_TOP - OFF
R = W - (PLOT_RIGHT - OFF)
B = H - (PLOT_BOTTOM - OFF)
PW, PH = W - L - R, H - T - B


def px_x(px):
    return (px - OFF - L) / PW


def px_y(py):
    return ((PLOT_BOTTOM - OFF) - (py - OFF)) / PH


TEXT = "#595959"
GRID = "#D9D9D9"
SERIF = "Liberation Serif, Times New Roman, serif"
SANS = "Lato, Carlito, Liberation Sans, sans-serif"

fig = go.Figure()
for name, xs, ys, col in zip(series_names,
                             [sdc_dates, nasdaq_dates, sp500_dates],
                             [sdc_values, nasdaq_values, sp500_values],
                             series_colors):
    fig.add_trace(go.Scatter(x=xs, y=ys, mode="lines", name=name, showlegend=False,
                             line=dict(color=col, width=3)))

# legend drawn as line samples + real text, spaced like the reference
legend_line_x = [(435, 478), (660, 705), (888, 930)]
legend_text_x = [480, 704, 929]
legend_y = 811
shapes = [dict(type="rect", xref="paper", yref="paper",
               x0=px_x(8.5), x1=px_x(1350.5), y0=px_y(930), y1=px_y(8.5),
               line=dict(color=GRID, width=1), fillcolor="rgba(0,0,0,0)", layer="below")]
annotations = [
    dict(text=title_text, x=px_x(680.5), y=px_y(35), xref="paper", yref="paper",
         xanchor="center", yanchor="middle", showarrow=False,
         font=dict(family=SERIF, size=24, color=TEXT)),
    dict(text=subtitle_text, x=px_x(680.5), y=px_y(59), xref="paper", yref="paper",
         xanchor="center", yanchor="middle", showarrow=False,
         font=dict(family=SERIF, size=17.2, color=TEXT)),
    dict(text=footnote_text, x=px_x(65), y=px_y(860), xref="paper", yref="paper",
         xanchor="left", yanchor="middle", showarrow=False,
         font=dict(family=SERIF, size=17.2, color="#000000")),
]
for (x0, x1), tx, name, col in zip(legend_line_x, legend_text_x, series_names, series_colors):
    shapes.append(dict(type="line", xref="paper", yref="paper",
                       x0=px_x(x0), x1=px_x(x1), y0=px_y(legend_y), y1=px_y(legend_y),
                       line=dict(color=col, width=3)))
    annotations.append(dict(text=name, x=px_x(tx), y=px_y(legend_y), xref="paper", yref="paper",
                            xanchor="left", yanchor="middle", showarrow=False,
                            font=dict(family=SERIF, size=20, color=TEXT)))

fig.update_layout(
    width=W, height=H, autosize=False,
    margin=dict(l=L, r=R, t=T, b=B, pad=0, autoexpand=False),
    paper_bgcolor="white", plot_bgcolor="white",
    showlegend=False,
    xaxis=dict(type="date", range=["2019-09-12", "2022-12-31"], automargin=False,
               tickmode="array", tickvals=tick_dates, ticktext=tick_labels,
               tickangle=-45, tickfont=dict(family=SANS, size=18, color=TEXT),
               ticklabeloverflow="allow",
               showgrid=False, zeroline=False, showline=True, linecolor=GRID, linewidth=1,
               ticks="outside", ticklen=6, tickcolor=GRID, tickwidth=1),
    yaxis=dict(range=[0, 200], dtick=20, tick0=0, tickprefix="$", automargin=False,
               tickfont=dict(family=SANS, size=18, color=TEXT), ticklabeloverflow="allow",
               showgrid=True, gridcolor=GRID, gridwidth=1, zeroline=False,
               showline=False, ticks="", ticklabelstandoff=24),
    annotations=annotations,
    shapes=shapes,
)

fig.write_html("out.html", config={"displayModeBar": False})
